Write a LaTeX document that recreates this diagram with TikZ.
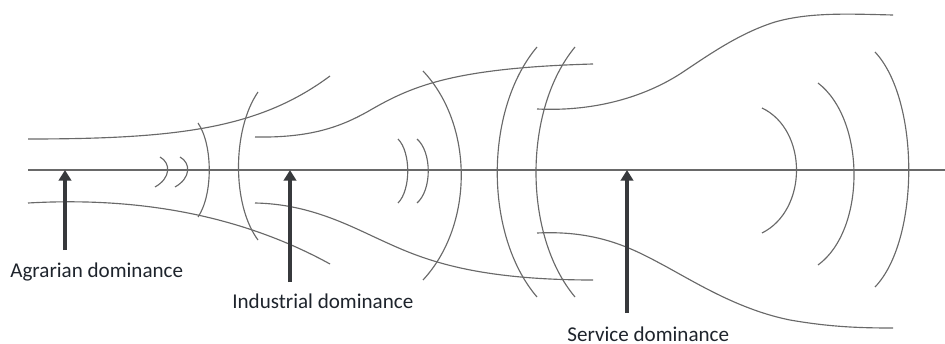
\documentclass[tikz,border=0pt]{standalone}
\usepackage{fontspec}
\setmainfont{Carlito}
\usetikzlibrary{arrows.meta}
\definecolor{linegray}{RGB}{105,105,105}
\definecolor{arrowgray}{RGB}{55,57,60}
\definecolor{textgray}{RGB}{30,36,44}
\begin{document}
\begin{tikzpicture}[x=0.02cm,y=-0.02cm,
  flow/.style={draw=linegray,line width=0.65pt},
  stagearrow/.style={draw=arrowgray,line width=2.2pt,-{Triangle[length=6pt,width=7pt]}},
  stagelabel/.style={text=textgray,font=\fontsize{12}{14}\selectfont,inner sep=0pt,anchor=base west}]
\useasboundingbox (0,0) rectangle (945,344);
% axis
\coordinate (axL) at (28,170);
\coordinate (axR) at (945,170);
\draw[flow] (axL) -- (axR);
% stage 1 envelope
\draw[flow] (28,139) .. controls (180,139) and (260,128) .. (330,76);
\draw[flow] (28,203) .. controls (150,196) and (250,220) .. (330,264);
% stage 2 envelope
\draw[flow] (255,137) .. controls (310,138) and (340,127) .. (367,112)
  .. controls (410,87) and (450,68) .. (593,64);
\draw[flow] (255,203) .. controls (310,204) and (350,226) .. (383,241)
  .. controls (420,258) and (470,280) .. (593,280);
% stage 3 envelope
\draw[flow] (537,109) .. controls (600,112) and (650,94) .. (683,72)
  .. controls (710,54) and (740,33) .. (775,22)
  .. controls (810,12) and (850,14) .. (893,15);
\draw[flow] (537,233) .. controls (600,230) and (635,250) .. (665,266)
  .. controls (698,284) and (740,310) .. (790,320)
  .. controls (830,327) and (860,328) .. (893,328);
% waves stage 1
\draw[flow] (160,157) .. controls (171,163) and (171,178) .. (155,187);
\draw[flow] (180,157) .. controls (191,163) and (191,178) .. (175,187);
\draw[flow] (198,123) .. controls (213,145) and (213,195) .. (198,217);
\draw[flow] (258,92) .. controls (232,130) and (232,205) .. (258,240);
% waves stage 2
\draw[flow] (398,139) .. controls (411,152) and (411,190) .. (398,203);
\draw[flow] (417,139) .. controls (432,152) and (432,190) .. (417,203);
\draw[flow] (423,71) .. controls (474,125) and (474,225) .. (423,280);
\draw[flow] (537,47) .. controls (484,110) and (484,235) .. (537,297);
\draw[flow] (575,47) .. controls (523,110) and (523,235) .. (575,297);
% waves stage 3
\draw[flow] (762,108) .. controls (808,130) and (808,210) .. (762,233);
\draw[flow] (818,83) .. controls (866,120) and (866,230) .. (818,265);
\draw[flow] (875,52) .. controls (920,100) and (920,240) .. (875,287);
% arrows and labels
\coordinate (a1s) at (65,250);  \coordinate (a1t) at (65,170);
\coordinate (a2s) at (290,282); \coordinate (a2t) at (290,170);
\coordinate (a3s) at (627,313); \coordinate (a3t) at (627,170);
\draw[stagearrow] (a1s) -- (a1t);
\draw[stagearrow] (a2s) -- (a2t);
\draw[stagearrow] (a3s) -- (a3t);
\node[stagelabel] (l1) at (10,277) {Agrarian dominance};
\node[stagelabel] (l2) at (232,308) {Industrial dominance};
\node[stagelabel] (l3) at (567,341) {Service dominance};
\end{tikzpicture}
\end{document}
